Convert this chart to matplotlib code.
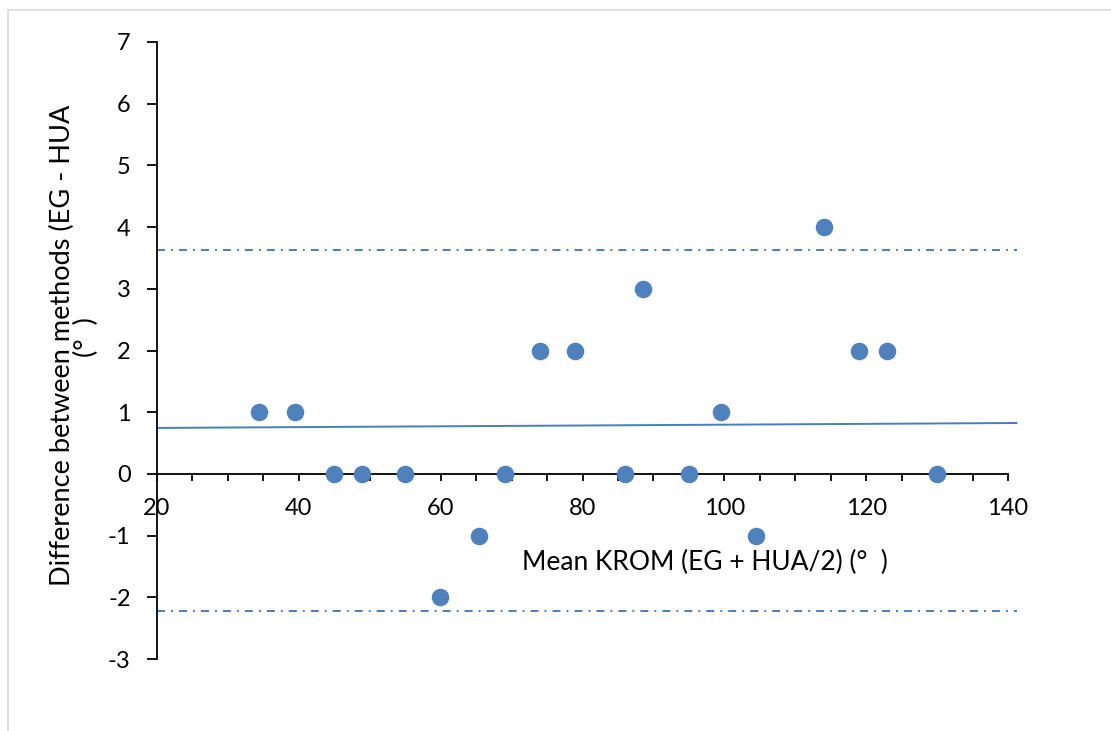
import matplotlib
matplotlib.use('Agg')
import matplotlib.pyplot as plt
from matplotlib.patches import Rectangle
from matplotlib.ticker import MultipleLocator

plt.rcParams['font.family'] = ['Lato', 'DejaVu Sans']
plt.rcParams['axes.unicode_minus'] = False

# 数据
mean_krom = [34.4, 39.5, 45.0, 48.9, 55.0, 59.9, 65.4, 69.1, 74.0, 78.9,
             86.0, 88.5, 95.0, 99.5, 104.5, 114.0, 119.0, 122.9, 130.0]
diff = [1, 1, 0, 0, 0, -2, -1, 0, 2, 2, 0, 3, 0, 1, -1, 4, 2, 2, 0]

trend_x = [20, 141.2]
trend_y = [0.745, 0.825]
upper_loa = 3.63
lower_loa = -2.22

blue = '#4F81BD'

fig = plt.figure(figsize=(11.11, 7.31), dpi=100)
ax = fig.add_axes([157 / 1111, 1 - 659 / 731, 851 / 1111, 617 / 731])

# 外框
fig.patches.append(Rectangle((8 / 1111, -0.05), 1.1, 1 - 10 / 731 + 0.05,
                             transform=fig.transFigure, fill=False,
                             edgecolor='#D9D9D9', lw=1.2))

ax.scatter(mean_krom, diff, s=135, color=blue, zorder=3, clip_on=False)
ax.plot(trend_x, trend_y, color='#4A7EBB', lw=1.4, clip_on=False)
ax.plot([20, 141.2], [upper_loa, upper_loa], color='#4A7EBB', lw=1.4,
        linestyle=(0, (4.1, 3.1, 1, 3.1)), clip_on=False)
ax.plot([20, 141.2], [lower_loa, lower_loa], color='#4A7EBB', lw=1.4,
        linestyle=(0, (4.1, 3.1, 1, 3.1)), clip_on=False)

ax.set_xlim(20, 140)
ax.set_ylim(-3, 7)
ax.spines['top'].set_visible(False)
ax.spines['right'].set_visible(False)
ax.spines['bottom'].set_position(('data', 0))
ax.spines['left'].set_linewidth(1.3)
ax.spines['bottom'].set_linewidth(1.3)

ax.xaxis.set_major_locator(MultipleLocator(20))
ax.xaxis.set_minor_locator(MultipleLocator(5))
ax.yaxis.set_major_locator(MultipleLocator(1))
ax.tick_params(axis='x', which='both', direction='out', length=5, width=1.3,
               labelsize=17, pad=12)
ax.tick_params(axis='y', which='major', direction='out', length=7, width=1.3,
               labelsize=17, pad=12)

ax.text(0.5 * (521 + 888) / 1111, 1 - 562 / 731, 'Mean KROM (EG + HUA/2) (°  )',
        transform=fig.transFigure, ha='center', va='center', fontsize=19)
ax.text(62 / 1111, 1 - 345 / 731, 'Difference between methods (EG - HUA',
        transform=fig.transFigure, ha='center', va='center', fontsize=19.5,
        rotation=90)
ax.text(86 / 1111, 1 - 337 / 731, '(°  )',
        transform=fig.transFigure, ha='center', va='center', fontsize=19.5,
        rotation=90)

fig.savefig('out.png', dpi=100)
